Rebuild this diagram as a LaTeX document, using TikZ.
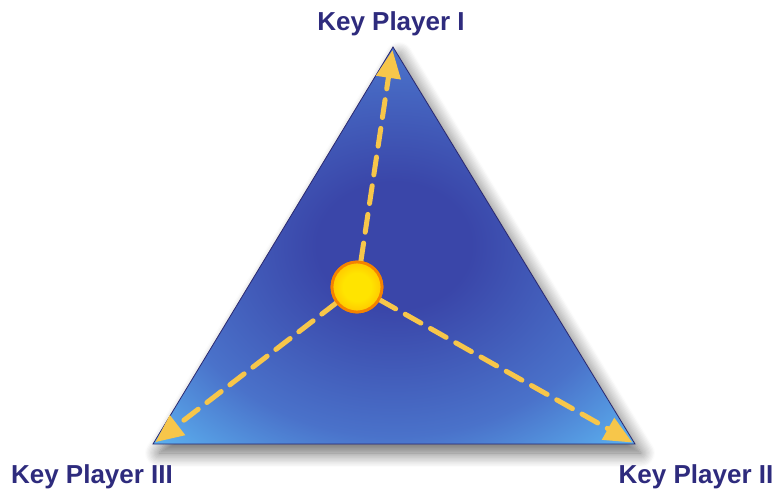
\documentclass[tikz,border=0pt]{standalone}
\usepackage{fontspec}
\setmainfont{Liberation Sans}
\usetikzlibrary{arrows.meta,shadows.blur}
\definecolor{kpnavy}{HTML}{2E2B7D}
\definecolor{kpdeep}{HTML}{3A46A9}
\definecolor{kpmid}{HTML}{4A72CA}
\definecolor{kplight}{HTML}{5DB6F2}
\definecolor{kpedge}{HTML}{2A2870}
\definecolor{kpgold}{HTML}{F7C64A}
\definecolor{kpyellow}{HTML}{FFE400}
\definecolor{kporange}{HTML}{FFA200}
\definecolor{kpring}{HTML}{F58200}
\pgfdeclareradialshading{kpglow}{\pgfpoint{0bp}{0bp}}{color(0bp)=(kpdeep); color(8bp)=(kpdeep); color(24bp)=(kpmid); color(36bp)=(kplight); color(50bp)=(kplight)}
\pgfdeclareradialshading{kpsun}{\pgfpoint{0bp}{0bp}}{color(0bp)=(kpyellow); color(14bp)=(kpyellow); color(40bp)=(kporange); color(50bp)=(kpring)}
\tikzset{
  plabel/.style={font=\fontsize{26}{30}\selectfont\bfseries,text=kpnavy,anchor=base,inner sep=0pt},
  hubnode/.style={circle,minimum size=50pt,inner sep=0pt,draw=kpring,line width=2.8pt,shading=kpsun},
  trifill/.style={draw=kpedge,line width=0.8pt,shading=kpglow},
  dasharrow/.style={-{Triangle[length=28pt,width=24pt]},kpgold,line width=5pt,dash pattern=on 18pt off 11pt,line cap=round,shorten >=3pt},
}
\begin{document}
\begin{tikzpicture}[x=1pt,y=-1pt]
  \useasboundingbox (0,0) rectangle (777,490);
  \coordinate (pI) at (393,47);
  \coordinate (pII) at (635,444);
  \coordinate (pIII) at (153,444);
  \path[trifill,blur shadow={shadow xshift=6pt,shadow yshift=-9pt,shadow blur radius=14pt,shadow blur steps=12,shadow opacity=60}]
    (pI) -- (pII) -- (pIII) -- cycle;
  \node[hubnode] (hub) at (357,287) {};
  \draw[dasharrow] (hub) -- (pI);
  \draw[dasharrow] (hub) -- (pII);
  \draw[dasharrow] (hub) -- (pIII);
  \node[hubnode] at (hub) {};
  \node[plabel] (lI) at (391,30) {Key Player I};
  \node[plabel] (lII) at (696,483) {Key Player II};
  \node[plabel] (lIII) at (92,483) {Key Player III};
\end{tikzpicture}
\end{document}
